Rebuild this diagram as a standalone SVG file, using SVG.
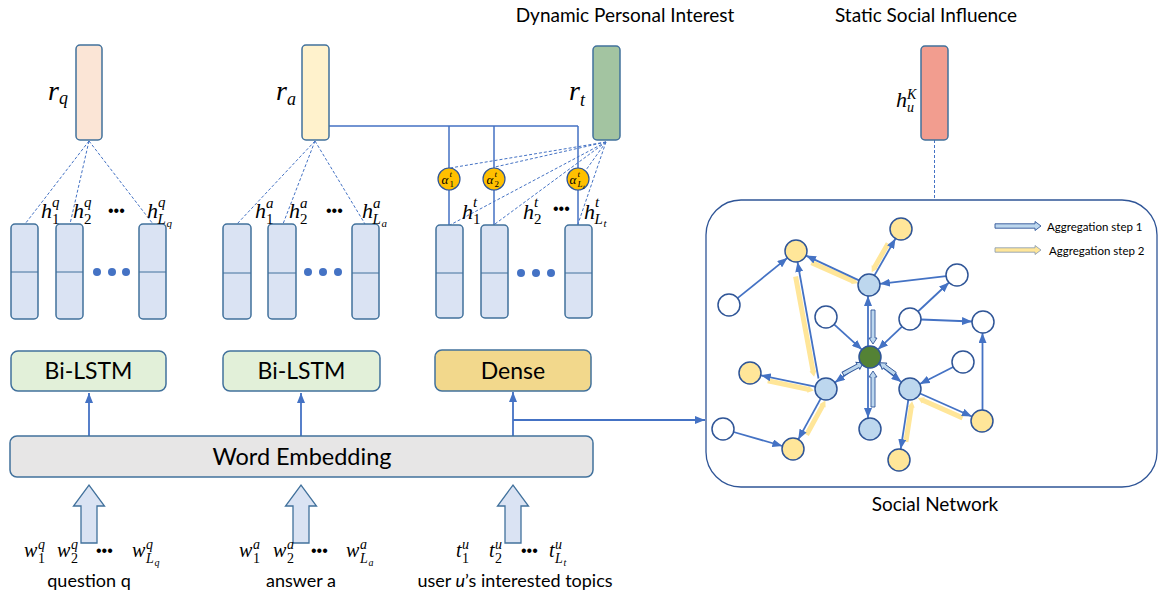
<svg xmlns="http://www.w3.org/2000/svg" width="1162" height="598" viewBox="0 0 1162 598">
<defs>
<marker id="ah" markerUnits="userSpaceOnUse" markerWidth="10" markerHeight="8" refX="10" refY="4" orient="auto"><path d="M0,0 L10,4 L0,8 Z" fill="#4472C4"/></marker>
<style>
.t{font-family:Lato,"Liberation Sans",sans-serif;fill:#000}
.m{font-family:"Liberation Serif",serif;font-style:italic;fill:#000}
.u{font-family:"Liberation Serif",serif;fill:#000}
.dd{font-family:"Liberation Sans",sans-serif;font-size:16px;fill:#000}
.bar{stroke:#41719C;stroke-width:1.5}
.hb{fill:#DAE3F3;stroke:#41719C;stroke-width:1.5}
.dv{stroke:#41719C;stroke-width:1}
.dot{fill:#4472C4}
.dash{stroke:#4472C4;stroke-width:1;stroke-dasharray:3 2;fill:none}
.ln{stroke:#4472C4;stroke-width:1.5;fill:none}
.arr{stroke:#4472C4;stroke-width:1.8;fill:none;marker-end:url(#ah)}
.nd{stroke:#2F5597;stroke-width:1.5}
.w{fill:#fff}.y{fill:#FFE699}.b{fill:#BDD7EE}.g{fill:#548235}
.s1{fill:#BDD7EE;stroke:#2F5597;stroke-width:0.9}
.s2{fill:#FFE699}
.box{stroke:#41719C;stroke-width:1.5}
.blk{fill:#DAE3F3;stroke:#41719C;stroke-width:1.3}
</style>
</defs>

<!-- titles -->
<text class="t" x="625" y="22" font-size="19" text-anchor="middle">Dynamic Personal Interest</text>
<text class="t" x="926" y="22" font-size="19" text-anchor="middle">Static Social Influence</text>

<!-- connectors -->
<g id="connectors">
  <line class="dash" x1="89" y1="141" x2="25" y2="224"/>
  <line class="dash" x1="89" y1="141" x2="70" y2="224"/>
  <line class="dash" x1="89" y1="141" x2="153" y2="224"/>
  <line class="dash" x1="315" y1="141" x2="237" y2="224"/>
  <line class="dash" x1="315" y1="141" x2="283" y2="224"/>
  <line class="dash" x1="315" y1="141" x2="365" y2="224"/>
  <line class="dash" x1="606" y1="142" x2="450" y2="168"/>
  <line class="dash" x1="606" y1="142" x2="495" y2="167"/>
  <line class="dash" x1="606" y1="142" x2="586" y2="170"/>
  <line class="dash" x1="606" y1="142" x2="450" y2="225"/>
  <line class="dash" x1="606" y1="142" x2="495" y2="224"/>
  <line class="dash" x1="606" y1="142" x2="578" y2="224"/>
  <line class="dash" x1="934.5" y1="140" x2="934.5" y2="200"/>
  <path class="ln" d="M329,126 H578 M449,126 V168 M494,126 V168 M578,126 V168 M449,190 V225 M494,190 V225 M578,190 V225"/>
  <line class="arr" x1="89" y1="436" x2="89" y2="393"/>
  <line class="arr" x1="301" y1="436" x2="301" y2="393"/>
  <line class="arr" x1="513" y1="436" x2="513" y2="392"/>
  <path class="arr" d="M513,420 H705"/>
</g>

<!-- r bars -->
<g id="r_q"><rect class="bar" x="76" y="45" width="26" height="95" rx="4" fill="#FBE5D6"/>
  <text class="m" x="48" y="100" font-size="28">r</text><text class="m" x="59" y="104" font-size="18">q</text></g>
<g id="r_a"><rect class="bar" x="302" y="45" width="27" height="95" rx="4" fill="#FFF2CC"/>
  <text class="m" x="276" y="100" font-size="28">r</text><text class="m" x="287" y="105" font-size="18">a</text></g>
<g id="r_t"><rect class="bar" x="593" y="46" width="27" height="94" rx="4" fill="#A3C4A1"/>
  <text class="m" x="569" y="100" font-size="28">r</text><text class="m" x="580" y="106" font-size="18">t</text></g>
<g id="h_uK"><rect class="bar" x="921" y="46" width="27" height="94" rx="4" fill="#F29D8F"/>
  <text class="m" x="896" y="107" font-size="22">h</text><text class="m" x="907" y="99" font-size="14">K</text><text class="m" x="907" y="112" font-size="14">u</text></g>

<!-- hidden state columns q -->
<g id="hq">
  <rect class="hb" x="11" y="224" width="27" height="95" rx="4"/><line class="dv" x1="11" y1="272" x2="38" y2="272"/>
  <rect class="hb" x="56" y="224" width="27" height="95" rx="4"/><line class="dv" x1="56" y1="272" x2="83" y2="272"/>
  <rect class="hb" x="139" y="224" width="27" height="95" rx="4"/><line class="dv" x1="139" y1="272" x2="166" y2="272"/>
  <circle class="dot" cx="97" cy="272" r="4"/><circle class="dot" cx="112" cy="272" r="4"/><circle class="dot" cx="126" cy="272" r="4"/>
  <text class="m" x="41" y="218" font-size="22">h</text><text class="m" x="52" y="207" font-size="15">q</text><text class="u" x="52" y="224" font-size="15">1</text>
  <text class="m" x="73" y="218" font-size="22">h</text><text class="m" x="84" y="207" font-size="15">q</text><text class="u" x="84" y="224" font-size="15">2</text>
  <text class="dd" x="108" y="216">•••</text>
  <text class="m" x="147" y="218" font-size="22">h</text><text class="m" x="158" y="207" font-size="15">q</text><text class="m" x="157.5" y="224" font-size="15">L</text><text class="m" x="166.5" y="227" font-size="11">q</text>
</g>

<!-- hidden state columns a -->
<g id="ha">
  <rect class="hb" x="223" y="224" width="28" height="95" rx="4"/><line class="dv" x1="223" y1="273" x2="251" y2="273"/>
  <rect class="hb" x="268" y="224" width="28" height="95" rx="4"/><line class="dv" x1="268" y1="273" x2="296" y2="273"/>
  <rect class="hb" x="352" y="224" width="27" height="95" rx="4"/><line class="dv" x1="352" y1="273" x2="379" y2="273"/>
  <circle class="dot" cx="308" cy="272" r="4"/><circle class="dot" cx="323" cy="272" r="4"/><circle class="dot" cx="338" cy="272" r="4"/>
  <text class="m" x="255" y="218" font-size="22">h</text><text class="m" x="266" y="208" font-size="15">a</text><text class="u" x="266" y="224" font-size="15">1</text>
  <text class="m" x="289" y="218" font-size="22">h</text><text class="m" x="300" y="208" font-size="15">a</text><text class="u" x="300" y="224" font-size="15">2</text>
  <text class="dd" x="326" y="216">•••</text>
  <text class="m" x="362" y="218" font-size="22">h</text><text class="m" x="373" y="208" font-size="15">a</text><text class="m" x="372.5" y="224" font-size="15">L</text><text class="m" x="381.5" y="227" font-size="11">a</text>
</g>

<!-- hidden state columns t -->
<g id="ht">
  <rect class="hb" x="436" y="225" width="27" height="93" rx="4"/><line class="dv" x1="436" y1="273" x2="463" y2="273"/>
  <rect class="hb" x="481" y="225" width="27" height="93" rx="4"/><line class="dv" x1="481" y1="273" x2="508" y2="273"/>
  <rect class="hb" x="565" y="225" width="27" height="93" rx="4"/><line class="dv" x1="565" y1="273" x2="592" y2="273"/>
  <circle class="dot" cx="521" cy="273" r="4"/><circle class="dot" cx="536" cy="273" r="4"/><circle class="dot" cx="551" cy="273" r="4"/>
  <text class="m" x="462" y="219" font-size="22">h</text><text class="m" x="473" y="207" font-size="15">t</text><text class="u" x="473" y="224" font-size="15">1</text>
  <text class="m" x="523" y="219" font-size="22">h</text><text class="m" x="534" y="207" font-size="15">t</text><text class="u" x="534" y="224" font-size="15">2</text>
  <text class="dd" x="553" y="214">•••</text>
  <text class="m" x="584" y="219" font-size="22">h</text><text class="m" x="595" y="207" font-size="15">t</text><text class="m" x="594.5" y="224" font-size="15">L</text><text class="m" x="603.5" y="227" font-size="11">t</text>
</g>

<!-- attention weights -->
<g id="alpha1"><circle cx="449" cy="179" r="11" fill="#FFC000" stroke="#2F5597" stroke-width="1.2"/>
  <text class="m" x="441.5" y="183.5" font-size="13">α</text><text class="m" x="449.5" y="177" font-size="9">t</text><text class="u" x="449.5" y="187" font-size="9">1</text></g>
<g id="alpha2"><circle cx="494" cy="179" r="11" fill="#FFC000" stroke="#2F5597" stroke-width="1.2"/>
  <text class="m" x="486.5" y="183.5" font-size="13">α</text><text class="m" x="494.5" y="177" font-size="9">t</text><text class="u" x="494.5" y="187" font-size="9">2</text></g>
<g id="alphaL"><circle cx="578" cy="179" r="11" fill="#FFC000" stroke="#2F5597" stroke-width="1.2"/>
  <text class="m" x="569.5" y="183.5" font-size="13">α</text><text class="m" x="577.5" y="177" font-size="9">t</text><text class="m" x="577.5" y="187" font-size="9">L</text><text class="m" x="583" y="189" font-size="6.5">t</text></g>

<!-- encoders -->
<g id="bilstm_q"><rect class="box" x="11" y="351" width="155" height="40" rx="7" fill="#E2F0D9"/>
  <text class="t" x="88.5" y="379" font-size="23" text-anchor="middle">Bi-LSTM</text></g>
<g id="bilstm_a"><rect class="box" x="223" y="351" width="157" height="40" rx="7" fill="#E2F0D9"/>
  <text class="t" x="301.5" y="379" font-size="23" text-anchor="middle">Bi-LSTM</text></g>
<g id="dense"><rect class="box" x="435" y="350" width="156" height="41" rx="7" fill="#F2D88C"/>
  <text class="t" x="513" y="379" font-size="23" text-anchor="middle">Dense</text></g>
<g id="word_embedding"><rect class="box" x="10" y="436" width="583" height="41" rx="7" fill="#E7E6E6"/>
  <text class="t" x="302" y="465" font-size="23.5" text-anchor="middle">Word Embedding</text></g>

<!-- inputs -->
<g id="input_q">
  <polygon class="blk" points="81,543 81,506 73.5,506 89,485 104.5,506 97,506 97,543"/>
  <text class="m" x="24" y="557" font-size="20">w</text><text class="m" x="38" y="549" font-size="14">q</text><text class="u" x="38" y="563" font-size="14">1</text>
  <text class="m" x="57" y="557" font-size="20">w</text><text class="m" x="71" y="549" font-size="14">q</text><text class="u" x="71" y="563" font-size="14">2</text>
  <text class="dd" x="96" y="556">•••</text>
  <text class="m" x="132" y="557" font-size="20">w</text><text class="m" x="146" y="549" font-size="14">q</text><text class="m" x="146" y="563" font-size="14">L</text><text class="m" x="154.5" y="566" font-size="10">q</text>
  <text class="t" x="89" y="587" font-size="18" text-anchor="middle">question q</text>
</g>
<g id="input_a">
  <polygon class="blk" points="293,543 293,506 285.5,506 301,485 316.5,506 309,506 309,543"/>
  <text class="m" x="239" y="557" font-size="20">w</text><text class="m" x="253" y="549" font-size="14">a</text><text class="u" x="253" y="563" font-size="14">1</text>
  <text class="m" x="273" y="557" font-size="20">w</text><text class="m" x="287" y="549" font-size="14">a</text><text class="u" x="287" y="563" font-size="14">2</text>
  <text class="dd" x="311" y="556">•••</text>
  <text class="m" x="346" y="557" font-size="20">w</text><text class="m" x="360" y="549" font-size="14">a</text><text class="m" x="360" y="563" font-size="14">L</text><text class="m" x="368.5" y="566" font-size="10">a</text>
  <text class="t" x="301" y="587" font-size="18" text-anchor="middle">answer a</text>
</g>
<g id="input_t">
  <polygon class="blk" points="505,543 505,506 497.5,506 513,485 528.5,506 521,506 521,543"/>
  <text class="m" x="456" y="557" font-size="20">t</text><text class="m" x="462" y="549" font-size="14">u</text><text class="u" x="462" y="563" font-size="14">1</text>
  <text class="m" x="489" y="557" font-size="20">t</text><text class="m" x="495" y="549" font-size="14">u</text><text class="u" x="495" y="563" font-size="14">2</text>
  <text class="dd" x="521" y="556">•••</text>
  <text class="m" x="549" y="557" font-size="20">t</text><text class="m" x="555" y="549" font-size="14">u</text><text class="m" x="555" y="563" font-size="14">L</text><text class="m" x="563.5" y="566" font-size="10">t</text>
  <text class="t" x="515" y="587" font-size="18" text-anchor="middle">user <tspan font-style="italic">u</tspan>’s interested topics</text>
</g>

<!-- social network -->
<g id="social_network">
  <rect x="706" y="200" width="451" height="287" rx="35" fill="none" stroke="#2F5597" stroke-width="1.3"/>
  <text class="t" x="935" y="511" font-size="19" text-anchor="middle">Social Network</text>
</g>

<g id="legend">
  <polygon class="s1" transform="translate(995,226)" points="0,-2.2 40,-2.2 40,-4.5 46,0 40,4.5 40,2.2 0,2.2"/>
  <text class="t" x="1047" y="230.5" font-size="11.5">Aggregation step 1</text>
  <polygon fill="#FFE699" stroke="#8497B0" stroke-width="0.8" transform="translate(995,250)" points="0,-2.2 40,-2.2 40,-4.5 46,0 40,4.5 40,2.2 0,2.2"/>
  <text class="t" x="1049" y="255" font-size="11.5">Aggregation step 2</text>
</g>

<g id="graph_edges">
  <polygon class="s2" transform="translate(811.5,262.6) rotate(24)" points="0,-2.5 45,-2.5 45,-3.5 51,0 45,3.5 45,2.5 0,2.5"/>
  <polygon class="s2" transform="translate(888.1,243.5) rotate(119.8)" points="0,-2.5 27,-2.5 27,-3.5 33,0 27,3.5 27,2.5 0,2.5"/>
  <polygon class="s2" transform="translate(795.6,276.5) rotate(79.55)" points="0,-2.5 96,-2.5 96,-3.5 102,0 96,3.5 96,2.5 0,2.5"/>
  <polygon class="s2" transform="translate(767.8,380.8) rotate(11.9)" points="0,-2.5 41,-2.5 41,-3.5 47,0 41,3.5 41,2.5 0,2.5"/>
  <polygon class="s2" transform="translate(806.6,434.8) rotate(-61.2)" points="0,-2.5 33,-2.5 33,-3.5 39,0 33,3.5 33,2.5 0,2.5"/>
  <polygon class="s2" transform="translate(962.6,417.9) rotate(-156)" points="0,-2.5 43,-2.5 43,-3.5 49,0 43,3.5 43,2.5 0,2.5"/>
  <polygon class="s2" transform="translate(905.9,441.8) rotate(-81.2)" points="0,-2.5 35,-2.5 35,-3.5 41,0 35,3.5 35,2.5 0,2.5"/>
  <line class="arr" x1="737.6" y1="298.1" x2="787.4" y2="257.9"/>
  <line class="arr" x1="859" y1="280.4" x2="806" y2="255.6"/>
  <line class="arr" x1="874.5" y1="275.4" x2="895.5" y2="238.6"/>
  <line class="arr" x1="946.1" y1="276.2" x2="879.9" y2="283.8"/>
  <line class="arr" x1="918" y1="311.5" x2="949" y2="282.5"/>
  <line class="arr" x1="921" y1="319.5" x2="972" y2="321.5"/>
  <line class="arr" x1="902" y1="326.6" x2="878" y2="349.4"/>
  <line class="arr" x1="834.1" y1="324.4" x2="861.9" y2="349.6"/>
  <line class="arr" x1="868" y1="346" x2="868" y2="296"/>
  <line class="arr" x1="861.1" y1="363.5" x2="834.9" y2="382.5"/>
  <line class="arr" x1="878.6" y1="363.9" x2="901.4" y2="382.1"/>
  <line class="arr" x1="868" y1="368" x2="868" y2="418"/>
  <line class="arr" x1="818.5" y1="378.5" x2="797.5" y2="262"/>
  <line class="arr" x1="815.2" y1="386.7" x2="760.8" y2="375.3"/>
  <line class="arr" x1="820.7" y1="398.6" x2="798.3" y2="439.4"/>
  <line class="arr" x1="733.6" y1="432" x2="782.4" y2="446"/>
  <line class="arr" x1="953.2" y1="367" x2="919.8" y2="384"/>
  <line class="arr" x1="920.1" y1="393.5" x2="971.9" y2="416.5"/>
  <line class="arr" x1="908.3" y1="399.9" x2="900.7" y2="449.1"/>
  <line class="arr" x1="982.5" y1="410" x2="982.5" y2="333"/>
  <polygon class="s1" transform="translate(873,310) rotate(90)" points="0,-2 28,-2 28,-4 34,0 28,4 28,2 0,2"/>
  <polygon class="s1" transform="translate(873,407) rotate(-90)" points="0,-2 30,-2 30,-4 36,0 30,4 30,2 0,2"/>
  <polygon class="s1" transform="translate(843,374) rotate(-28.8)" points="0,-2 17,-2 17,-4 23,0 17,4 17,2 0,2"/>
  <polygon class="s1" transform="translate(895,374) rotate(-143.7)" points="0,-2 13,-2 13,-4 19,0 13,4 13,2 0,2"/>
</g>

<g id="nA"><circle class="nd y" cx="901" cy="229" r="11"/></g>
<g id="nB"><circle class="nd y" cx="796" cy="251" r="11"/></g>
<g id="nC"><circle class="nd b" cx="869" cy="285" r="11"/></g>
<g id="nD"><circle class="nd w" cx="957" cy="275" r="11"/></g>
<g id="nE"><circle class="nd w" cx="729" cy="305" r="11"/></g>
<g id="nF"><circle class="nd w" cx="826" cy="317" r="11"/></g>
<g id="nG"><circle class="nd w" cx="910" cy="319" r="11"/></g>
<g id="nH"><circle class="nd w" cx="983" cy="322" r="11"/></g>
<g id="nU"><circle class="nd g" cx="870" cy="357" r="11"/></g>
<g id="nI"><circle class="nd w" cx="963" cy="362" r="11"/></g>
<g id="nJ"><circle class="nd y" cx="750" cy="373" r="11"/></g>
<g id="nK"><circle class="nd b" cx="826" cy="389" r="11"/></g>
<g id="nL"><circle class="nd b" cx="910" cy="389" r="11"/></g>
<g id="nM"><circle class="nd y" cx="982" cy="421" r="11"/></g>
<g id="nN"><circle class="nd b" cx="870" cy="429" r="11"/></g>
<g id="nO"><circle class="nd w" cx="723" cy="429" r="11"/></g>
<g id="nP"><circle class="nd y" cx="793" cy="449" r="11"/></g>
<g id="nQ"><circle class="nd y" cx="899" cy="460" r="11"/></g>
</svg>
